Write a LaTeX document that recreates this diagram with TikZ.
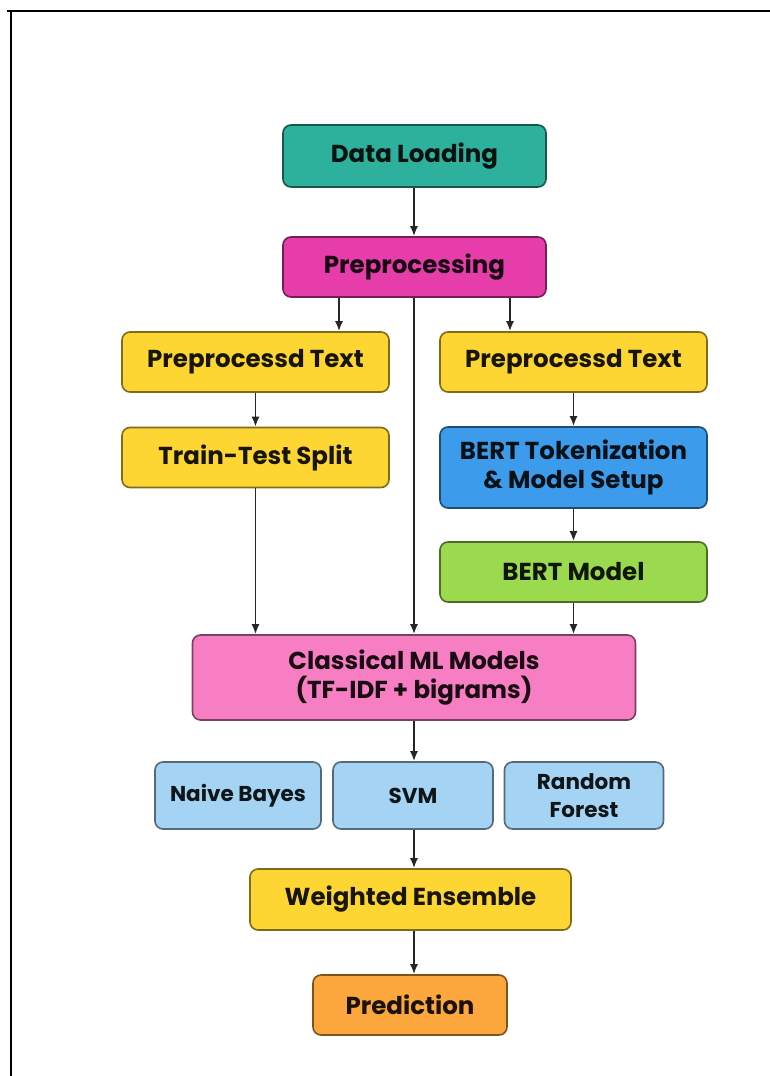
\documentclass[tikz,border=0pt]{standalone}
\usepackage{fontspec}
\setmainfont{Poppins}
\usepackage{xcolor}
\usepackage{tikz}
\usetikzlibrary{arrows.meta,positioning,calc}

\definecolor{loadcol}{HTML}{2DB09C}
\definecolor{prepcol}{HTML}{E63DAA}
\definecolor{txtcol}{HTML}{FDD633}
\definecolor{bertcol}{HTML}{3D9BEB}
\definecolor{modelcol}{HTML}{9BDA4E}
\definecolor{mlcol}{HTML}{F77EC2}
\definecolor{clfcol}{HTML}{A4D3F3}
\definecolor{predcol}{HTML}{FBA73D}

\begin{document}
\begin{tikzpicture}[
x=1pt, y=-1pt,
font=\fontsize{24.5}{29}\selectfont\bfseries,
box/.style={rounded corners=8pt, line width=1.6pt, align=center, inner sep=0pt},
colbox/.style={box, fill=#1, draw=#1!50!black, text=#1!10!black},
load/.style={colbox=loadcol, minimum width=263pt, minimum height=62pt},
prep/.style={colbox=prepcol, minimum width=263pt, minimum height=60pt},
ptext/.style={colbox=txtcol, minimum width=267pt, minimum height=60pt},
bert/.style={colbox=bertcol, minimum width=267pt, minimum height=81pt},
model/.style={colbox=modelcol, minimum width=267pt, minimum height=60pt},
classic/.style={colbox=mlcol, minimum width=443pt, minimum height=85pt},
clf/.style={colbox=clfcol, minimum height=67pt, font=\fontsize{21.5}{28}\selectfont\bfseries},
ensemble/.style={colbox=txtcol, minimum width=321pt, minimum height=61pt},
pred/.style={colbox=predcol, minimum width=194pt, minimum height=60pt},
arr/.style={-{Latex[length=10pt,width=8pt]}, line width=1.8pt, draw=black!85}
]
\useasboundingbox (0,0) rectangle (770,1076);

% Frame
\draw[line width=2.2pt] (7,11) -- (770,11);
\draw[line width=2.2pt] (11,11) -- (11,1076);

% Main flow
\node[load] (loading) at (414.5,156) {Data Loading};
\node[prep] (preproc) at (414.5,267) {Preprocessing};

% Classical branch
\node[ptext] (textL) at (255.5,362) {Preprocessd Text};
\node[ptext] (split) at (255.5,457.5) {Train-Test Split};

% BERT branch
\node[ptext] (textR) at (573.5,362) {Preprocessd Text};
\node[bert] (tokenize) at (573.5,467.5) {BERT Tokenization\\\& Model Setup};
\node[model] (bertmodel) at (573.5,572) {BERT Model};

% Models
\node[classic] (classical) at (414,677.5) {Classical ML Models\\(TF-IDF + bigrams)};
\node[clf, minimum width=166pt] (nb) at (238,795.5) {Naive Bayes};
\node[clf, minimum width=160pt] (svm) at (413,795.5) {SVM};
\node[clf, minimum width=159pt] (rf) at (584,795.5) {Random\\Forest};
\node[ensemble] (ens) at (410.5,899.5) {Weighted Ensemble};
\node[pred] (prediction) at (410,1005) {Prediction};

% Arrow columns
\coordinate (spine) at (414,0);
\coordinate (lcol) at (339,0);
\coordinate (rcol) at (510,0);

\draw[arr] (loading.south -| spine) -- (preproc.north -| spine);
\draw[arr] (preproc.south -| lcol) -- (textL.north -| lcol);
\draw[arr] (preproc.south -| rcol) -- (textR.north -| rcol);
\draw[arr] (preproc.south -| spine) -- (classical.north -| spine);

\draw[arr] (textL) -- (split);
\draw[arr] (split.south) -- (split.south |- classical.north);

\draw[arr] (textR) -- (tokenize);
\draw[arr] (tokenize) -- (bertmodel);
\draw[arr] (bertmodel.south) -- (bertmodel.south |- classical.north);

\draw[arr] (classical.south -| spine) -- (svm.north -| spine);
\draw[arr] (svm.south -| spine) -- (ens.north -| spine);
\draw[arr] (ens.south -| spine) -- (prediction.north -| spine);

\end{tikzpicture}
\end{document}
